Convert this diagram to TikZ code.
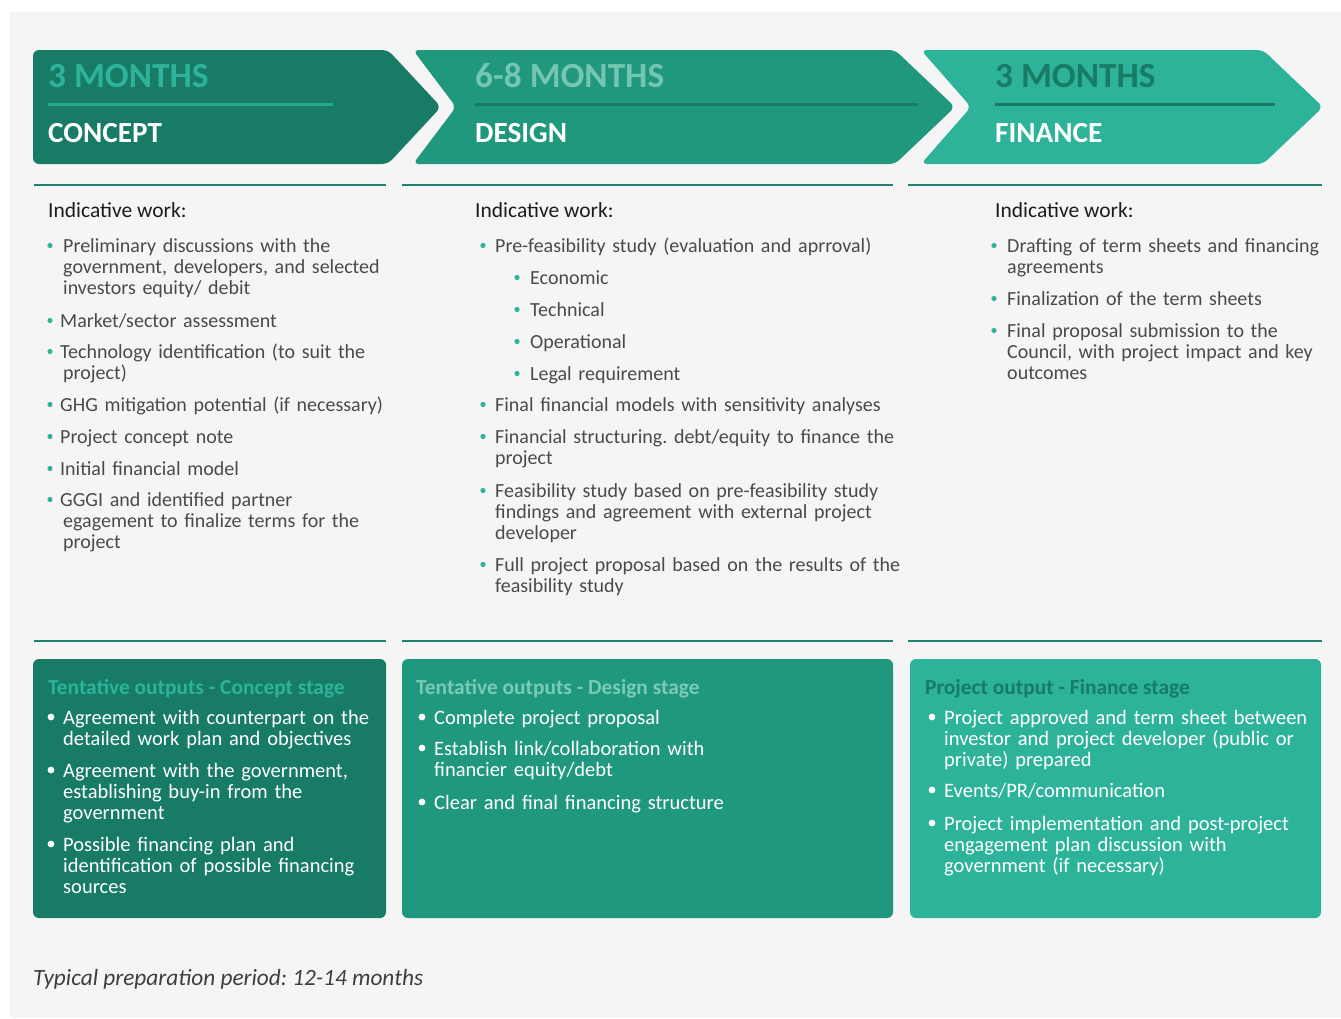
\documentclass[tikz,border=0pt]{standalone}
\usepackage{fontspec}
\setmainfont{Carlito}
\frenchspacing
\definecolor{gdark}{HTML}{177B66}
\definecolor{gmid}{HTML}{1F987E}
\definecolor{glight}{HTML}{2DB39A}
\definecolor{bgc}{HTML}{F5F5F5}
\definecolor{txt}{HTML}{4A4A4A}
\definecolor{headc}{HTML}{1C1C1C}
\definecolor{lineA}{HTML}{27A88E}
\definecolor{sepc}{HTML}{1E8470}
\definecolor{dmonth}{HTML}{74C6B0}
\definecolor{dtitle}{HTML}{7ACBB5}
\tikzset{
  chevron/.style={rounded corners=6pt},
  body/.style={anchor=base west, inner sep=0pt, text width=430pt, align=left,
    font=\fontsize{20}{21}\selectfont, text=txt},
  boxtxt/.style={anchor=base west, inner sep=0pt, text width=430pt, align=left,
    font=\fontsize{20.5}{21}\selectfont, text=white},
  boxtitle/.style={anchor=base west, inner sep=0pt, font=\bfseries\fontsize{21.4}{21}\selectfont},
  indic/.style={anchor=base west, inner sep=0pt, font=\fontsize{21.5}{21}\selectfont, text=headc},
  months/.style={anchor=base west, inner sep=0pt, font=\bfseries\fontsize{35.3}{35}\selectfont},
  stage/.style={anchor=base west, inner sep=0pt, font=\bfseries\fontsize{29.2}{29}\selectfont, text=white},
  sepline/.style={draw=sepc, line width=2pt},
  outbox/.style={rounded corners=6pt},
}
\newcommand\witem[5]{\fill[glight] (#2,{#4-6.5}) circle (2.6);
  \node[body] (#1) at (#3,#4) {#5};}
\newcommand\bitem[5]{\fill[white] (#2,{#4-7}) circle (3.4);
  \node[boxtxt] (#1) at (#3,#4) {#5};}
\begin{document}
\begin{tikzpicture}[x=1pt,y=-1pt]
\useasboundingbox (0,0) rectangle (1341,1018);
\fill[bgc] (10,12) rectangle (1341,1018);

% header chevrons
\fill[gdark,chevron] (33,50) -- (388,50) -- (441,107) -- (388,164) -- (33,164) -- cycle;
\fill[gmid,chevron] (413,50) -- (895,50) -- (955,107) -- (895,164) -- (413,164) -- (456,107) -- cycle;
\fill[glight,chevron] (921,50) -- (1263,50) -- (1323,107) -- (1263,164) -- (921,164) -- (971,107) -- cycle;

\node[months, text=glight] (m1) at (48,87) {3 MONTHS};
\node[months, text=dmonth] (m2) at (475,87) {6-8 MONTHS};
\node[months, text=gdark] (m3) at (995,87) {3 MONTHS};
\draw[lineA, line width=3pt] (48,104) -- (333,104);
\draw[gdark, line width=3pt] (475,104) -- (918,104);
\draw[gdark, line width=3pt] (995,104) -- (1275,104);
\node[stage] (s1) at (48,142) {CONCEPT};
\node[stage] (s2) at (475,142) {DESIGN};
\node[stage] (s3) at (995,142) {FINANCE};

% separators
\draw[sepline] (34,185) -- (386,185);
\draw[sepline] (402,185) -- (893,185);
\draw[sepline] (908,185) -- (1322,185);
\draw[sepline] (34,641) -- (386,641);
\draw[sepline] (402,641) -- (893,641);
\draw[sepline] (908,641) -- (1322,641);

% indicative work
\node[indic] (i1) at (48,217) {Indicative work:};
\node[indic] (i2) at (475,217) {Indicative work:};
\node[indic] (i3) at (995,217) {Indicative work:};

% column 1
\witem{a1}{50}{63}{252}{Preliminary discussions with the\\government, developers, and selected\\investors equity/ debit}
\witem{a2}{50}{60}{327}{Market/sector assessment}
\witem{a3}{50}{60}{358}{Technology identification (to suit the\\\hspace*{3pt}project)}
\witem{a4}{50}{60}{411}{GHG mitigation potential (if necessary)}
\witem{a5}{50}{60}{443}{Project concept note}
\witem{a6}{50}{60}{475}{Initial financial model}
\witem{a7}{50}{60}{506}{GGGI and identified partner\\\hspace*{3pt}egagement to finalize terms for the\\\hspace*{3pt}project}

% column 2
\witem{b1}{483}{495}{252}{Pre-feasibility study (evaluation and aprroval)}
\witem{b2}{517}{530}{284}{Economic}
\witem{b3}{517}{530}{316}{Technical}
\witem{b4}{517}{530}{348}{Operational}
\witem{b5}{517}{530}{380}{Legal requirement}
\witem{b6}{483}{495}{411}{Final financial models with sensitivity analyses}
\witem{b7}{483}{495}{443}{Financial structuring. debt/equity to finance the\\project}
\witem{b8}{483}{495}{497}{Feasibility study based on pre-feasibility study\\findings and agreement with external project\\developer}
\witem{b9}{483}{495}{571}{Full project proposal based on the results of the\\feasibility study}

% column 3
\witem{c1}{994}{1007}{252}{Drafting of term sheets and financing\\agreements}
\witem{c2}{994}{1007}{305}{Finalization of the term sheets}
\witem{c3}{994}{1007}{337}{Final proposal submission to the\\Council, with project impact and key\\outcomes}

% output boxes
\fill[gdark,outbox] (33,659) rectangle (386,918);
\fill[gmid,outbox] (402,659) rectangle (893,918);
\fill[glight,outbox] (910,659) rectangle (1321,918);

\node[boxtitle, text=glight] (t1) at (48,694) {Tentative outputs - Concept stage};
\node[boxtitle, text=dtitle] (t2) at (416,694) {Tentative outputs - Design stage};
\node[boxtitle, text=gdark] (t3) at (925,694) {Project output - Finance stage};

\bitem{d1}{51}{63}{724}{Agreement with counterpart on the\\detailed work plan and objectives}
\bitem{d2}{51}{63}{777}{Agreement with the government,\\establishing buy-in from the\\government}
\bitem{d3}{51}{63}{851}{Possible financing plan and\\identification of possible financing\\sources}

\bitem{e1}{422}{434}{724}{Complete project proposal}
\bitem{e2}{422}{434}{755}{Establish link/collaboration with\\financier equity/debt}
\bitem{e3}{422}{434}{809}{Clear and final financing structure}

\bitem{f1}{932}{944}{724}{Project approved and term sheet between\\investor and project developer (public or\\private) prepared}
\bitem{f2}{932}{944}{797}{Events/PR/communication}
\bitem{f3}{932}{944}{830}{Project implementation and post-project\\engagement plan discussion with\\government (if necessary)}

% footer
\node[anchor=base west, inner sep=0pt, font=\itshape\fontsize{23.3}{23}\selectfont, text=headc!85] (foot) at (33,985) {Typical preparation period: 12-14 months};
\end{tikzpicture}
\end{document}
